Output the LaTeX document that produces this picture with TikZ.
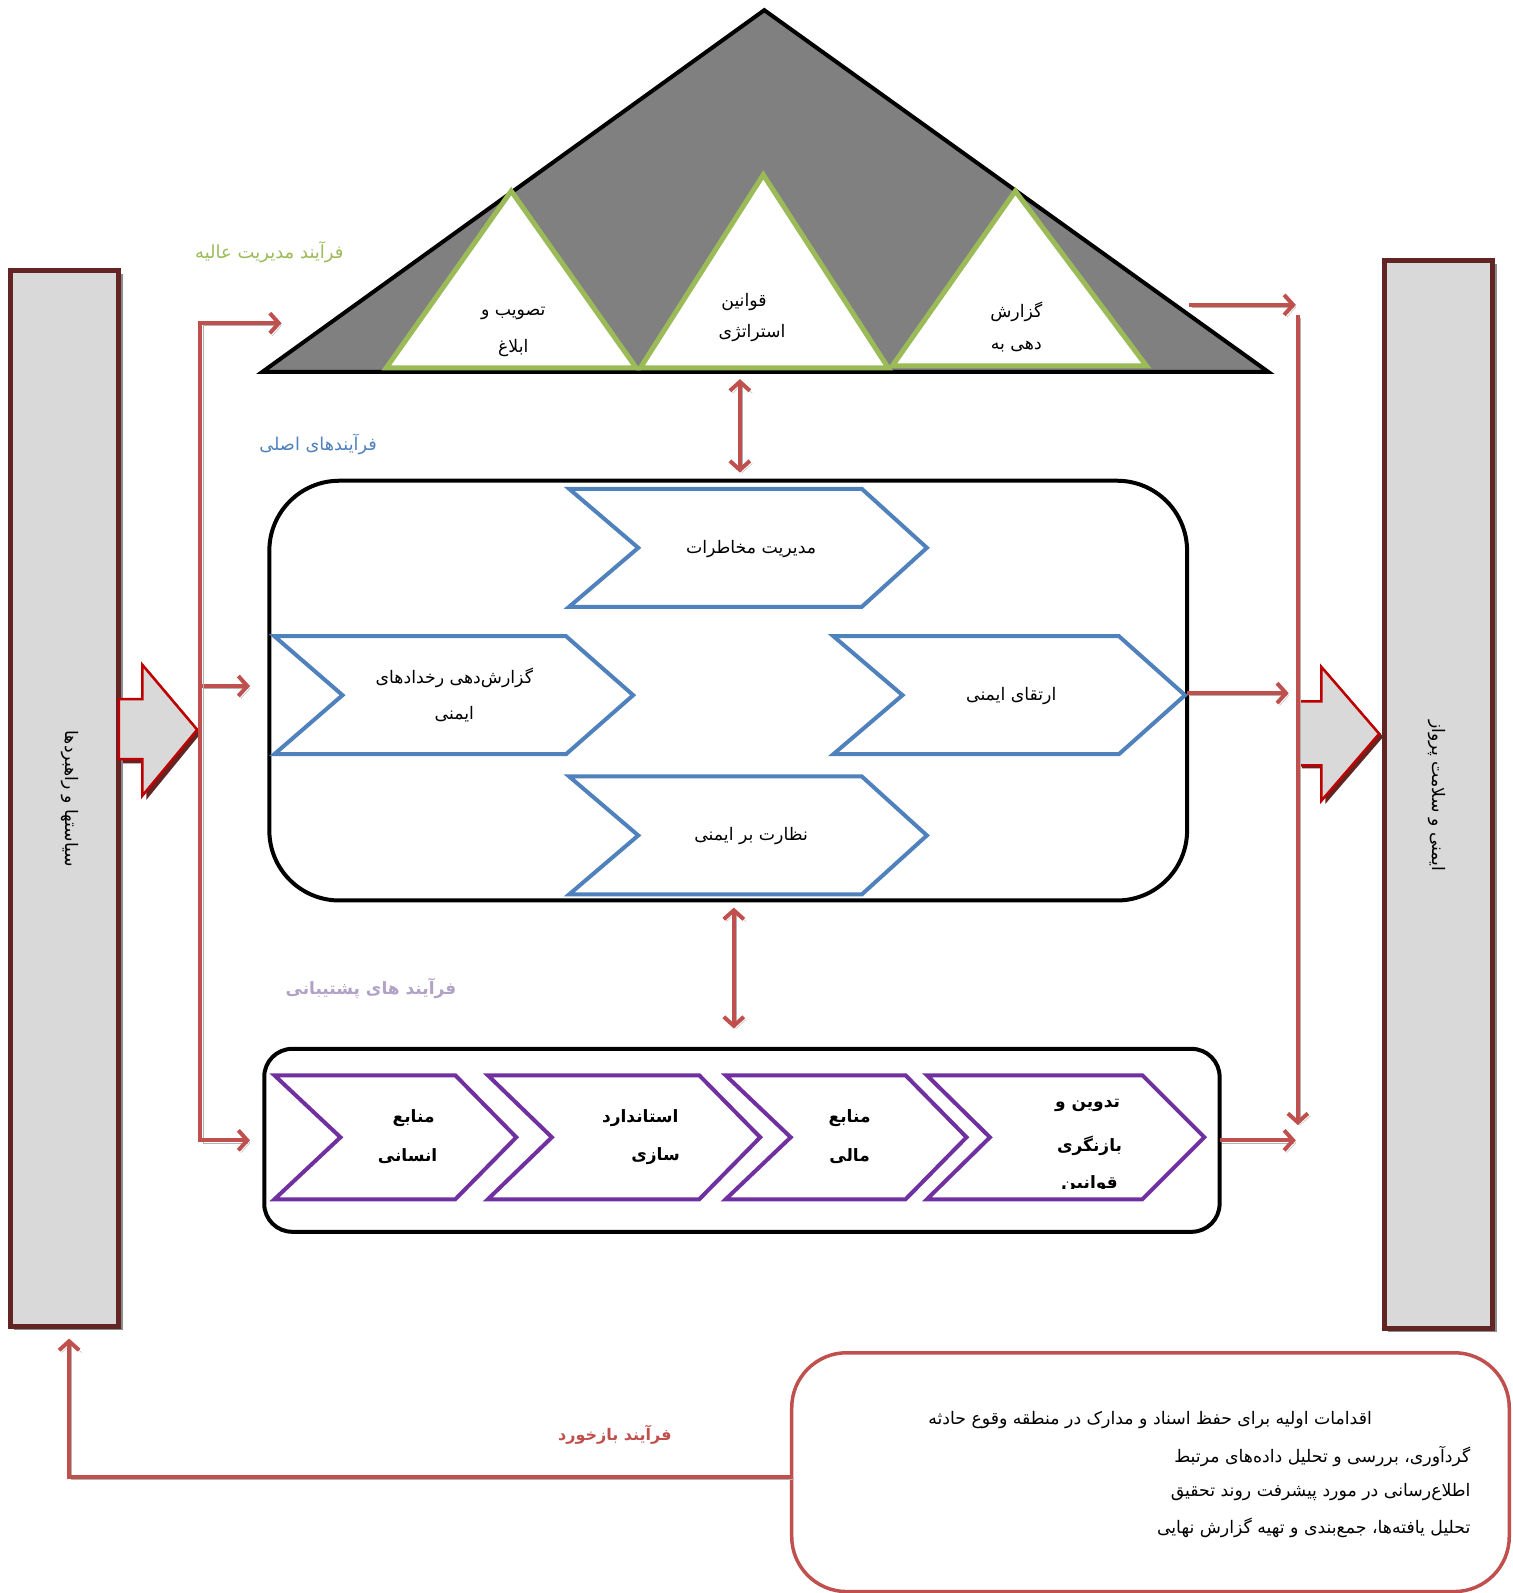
\documentclass[tikz,border=0pt]{standalone}
\usepackage{fontspec}
\newfontfamily\fa[Script=Arabic]{DejaVu Sans}
\TeXXeTstate=1
\usetikzlibrary{arrows.meta}
\newcommand{\fat}[1]{{\fa\beginR #1\endR}}
\definecolor{biggray}{HTML}{808080}
\definecolor{greentri}{HTML}{9BBB59}
\definecolor{bluechev}{HTML}{4F81BD}
\definecolor{purpchev}{HTML}{7030A0}
\definecolor{redcon}{HTML}{C0504D}
\definecolor{barred}{HTML}{632523}
\definecolor{arrred}{HTML}{C00000}
\definecolor{lgray}{HTML}{D9D9D9}
\definecolor{lilac}{HTML}{B2A1C7}
\begin{document}
\begin{tikzpicture}[x=1.0163pt,y=-1.0163pt,
  gtri/.style={draw=greentri,line width=5pt,fill=white,line join=miter},
  bchev/.style={draw=bluechev,line width=4pt,fill=white,line join=miter},
  pchev/.style={draw=purpchev,line width=4pt,fill=white,line join=miter},
  txt/.style={font=\fontsize{17.3}{21}\selectfont,align=center,inner sep=0pt},
  btxt/.style={font=\fontsize{17}{21}\selectfont\bfseries,align=center,inner sep=0pt},
  tip/.tip={Straight Barb[length=9pt,width=20pt]},
  redarr/.style={draw=redcon,line width=4pt,
    preaction={draw=black!30,transform canvas={shift={(2.5pt,-2.5pt)}}}},
  barbox/.style={draw=barred,line width=5pt,fill=lgray,inner sep=0pt},
  blockarr/.style={draw=arrred,line width=2.5pt,fill=lgray,line join=miter}
]
\useasboundingbox (0,0) rectangle (1487.8,1567.4);

% ---------- big roof triangle ----------
\draw[line width=4pt,fill=biggray,line join=miter] (752,10) -- (1248,366) -- (258,366) -- cycle;
\draw[gtri] (503,188) -- (626,362) -- (380,362) -- cycle;
\draw[gtri] (751,172) -- (874,362) -- (630,362) -- cycle;
\draw[gtri] (999,188) -- (1128,360) -- (878,360) -- cycle;
\node[txt] (t1a) at (505,308) {\fat{تصویب و}};
\node[txt] (t1b) at (505,342) {\fat{ابلاغ}};
\node[txt] (t2a) at (732,297) {\fat{قوانین}};
\node[txt] (t2b) at (740,328) {\fat{استراتژی}};
\node[txt] (t3a) at (1000,307) {\fat{گزارش}};
\node[txt] (t3b) at (1000,341) {\fat{دهی به}};

% ---------- section labels ----------
\node[txt,text=greentri,font=\fontsize{18}{21}\selectfont] (lab1) at (265,248) {\fat{فرآیند مدیریت عالیه}};
\node[txt,text=bluechev,font=\fontsize{17.7}{21}\selectfont] (lab2) at (313,437) {\fat{فرآیندهای اصلی}};
\node[btxt,text=lilac] (lab3) at (365,973) {\fat{فرآیند های پشتیبانی}};
\node[btxt,text=redcon,font=\fontsize{16}{20}\selectfont\bfseries] (lab4) at (605,1412) {\fat{فرآیند بازخورد}};

% ---------- side bars ----------
\fill[black!45] (14,270) rectangle (121,1309);
\node[barbox,minimum width=108.7pt,minimum height=1056pt] (L) at (63.5,785.5) {};
\node[txt,rotate=-90] (Ltext) at (69,786) {\fat{سیاستها و راهبردها}};
\fill[black!45] (1366,260) rectangle (1473,1311);
\node[barbox,minimum width=108.7pt,minimum height=1068pt] (R) at (1415.5,781.5) {};
\node[txt,rotate=-90] (Rtext) at (1414,783) {\fat{ایمنی و سلامت پرواز}};

% ---------- block arrows ----------
\fill[barred] (121,692) -- (144,692) -- (144,657) -- (198,721) -- (144,787) -- (144,751) -- (121,751) -- cycle;
\draw[blockarr] (117,688) -- (140,688) -- (140,654) -- (194,718) -- (140,783) -- (140,747) -- (117,747) -- cycle;
\fill[barred] (1281,693) -- (1304,693) -- (1304,659) -- (1361,725) -- (1304,791) -- (1304,756) -- (1281,756) -- cycle;
\draw[blockarr] (1277,690) -- (1300,690) -- (1300,656) -- (1357,722) -- (1300,788) -- (1300,753) -- (1277,753) -- cycle;

% ---------- main processes box ----------
\draw[line width=4pt,rounded corners=70pt] (265,473) rectangle (1168,886);
\draw[bchev] (560,481) -- (848,481) -- (912,539) -- (848,597) -- (560,597) -- (628,539) -- cycle;
\draw[bchev] (270,626) -- (557,626) -- (623,684) -- (557,742) -- (270,742) -- (337,684) -- cycle;
\draw[bchev] (820,626) -- (1101,626) -- (1166,684) -- (1101,742) -- (820,742) -- (888,684) -- cycle;
\draw[bchev] (560,764) -- (848,764) -- (912,822) -- (848,880) -- (560,880) -- (628,822) -- cycle;
\node[txt] (c1) at (739,540) {\fat{مدیریت مخاطرات}};
\node[txt] (c2a) at (447,667) {\fat{گزارش‌دهی رخدادهای}};
\node[txt] (c2b) at (447,703) {\fat{ایمنی}};
\node[txt] (c3) at (995,685) {\fat{ارتقای ایمنی}};
\node[txt] (c4) at (739,823) {\fat{نظارت بر ایمنی}};

% ---------- support box ----------
\draw[line width=4pt,rounded corners=28pt] (260,1032) rectangle (1200,1212);
\draw[pchev] (270,1058) -- (448,1058) -- (508,1119) -- (448,1180) -- (270,1180) -- (335,1119) -- cycle;
\draw[pchev] (480,1058) -- (688,1058) -- (748,1119) -- (688,1180) -- (480,1180) -- (543,1119) -- cycle;
\draw[pchev] (714,1058) -- (891,1058) -- (951,1119) -- (891,1180) -- (714,1180) -- (778,1119) -- cycle;
\draw[pchev] (912,1058) -- (1124,1058) -- (1185,1119) -- (1124,1180) -- (912,1180) -- (974,1119) -- cycle;
\node[btxt] (p1a) at (407,1100) {\fat{منابع}};
\node[btxt] (p1b) at (401,1138) {\fat{انسانی}};
\node[btxt] (p2a) at (630,1100) {\fat{استاندارد}};
\node[btxt] (p2b) at (645,1138) {\fat{سازی}};
\node[btxt] (p3a) at (836,1100) {\fat{منابع}};
\node[btxt] (p3b) at (836,1138) {\fat{مالی}};
\node[btxt] (p4a) at (1070,1088) {\fat{تدوین و}};
\node[btxt] (p4b) at (1072,1127) {\fat{بازنگری}};
\begin{scope}
\clip (980,1140) rectangle (1180,1169);
\node[btxt,anchor=base] (p4c) at (1072,1169) {\fat{قوانین}};
\end{scope}

% ---------- feedback box ----------
\draw[draw=redcon,line width=3.5pt,rounded corners=55pt] (779,1331) rectangle (1485,1566);
\node[txt,anchor=east] (f1) at (1350,1397) {\fat{اقدامات اولیه برای حفظ اسناد و مدارک در منطقه وقوع حادثه}};
\node[txt,anchor=east] (f2) at (1447,1433) {\fat{گردآوری، بررسی و تحلیل داده‌های مرتبط}};
\node[txt,anchor=east] (f3) at (1447,1468) {\fat{اطلاع‌رسانی در مورد پیشرفت روند تحقیق}};
\node[txt,anchor=east] (f4) at (1447,1503) {\fat{تحلیل یافته‌ها، جمع‌بندی و تهیه گزارش نهایی}};

% ---------- coordinates for connectors ----------
\coordinate (lt) at (197,318);
\coordinate (ltE) at (277,318);
\coordinate (lm) at (197,675);
\coordinate (lmE) at (246,675);
\coordinate (lb) at (197,1122);
\coordinate (lbE) at (246,1122);
\coordinate (rtS) at (1170,300);
\coordinate (rtE) at (1275,300);
\coordinate (rvT) at (1277,310);
\coordinate (rvB) at (1277,1107);
\coordinate (rmS) at (1168,682);
\coordinate (rmE) at (1268,682);
\coordinate (rbS) at (1200,1122);
\coordinate (rbE) at (1275,1122);
\coordinate (d1a) at (728,373);
\coordinate (d1b) at (728,465);
\coordinate (d2a) at (722,893);
\coordinate (d2b) at (722,1012);
\coordinate (fbS) at (779,1453);
\coordinate (fbC) at (68,1453);
\coordinate (fbE) at (68,1317);

% ---------- connectors ----------
\draw[redarr,-{tip}] (lb) -- (lt) -- (ltE);
\draw[redarr,-{tip}] (lm) -- (lmE);
\draw[redarr,-{tip}] (lt) -- (lb) -- (lbE);
\draw[redarr,-{tip}] (rtS) -- (rtE);
\draw[redarr,-{tip}] (rvT) -- (rvB);
\draw[redarr,-{tip}] (rmS) -- (rmE);
\draw[redarr,-{tip}] (rbS) -- (rbE);
\draw[redarr,{tip}-{tip}] (d1a) -- (d1b);
\draw[redarr,{tip}-{tip}] (d2a) -- (d2b);
\draw[redarr,-{tip}] (fbS) -- (fbC) -- (fbE);
\end{tikzpicture}
\end{document}
